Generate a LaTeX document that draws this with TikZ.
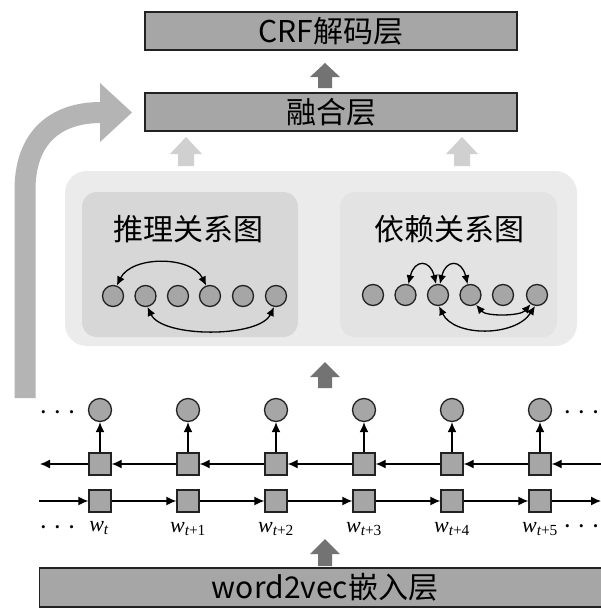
\documentclass[tikz,border=0pt]{standalone}
\usepackage{fontspec}
\newfontfamily\cjk{Noto Sans CJK SC}
\newfontfamily\tms{Liberation Serif}
\usetikzlibrary{arrows.meta}
\definecolor{boxfill}{HTML}{A6A6A6}
\definecolor{edgecol}{HTML}{222222}
\definecolor{darkarr}{HTML}{737373}
\definecolor{lightarr}{HTML}{D0D0D0}
\definecolor{bigarr}{HTML}{B4B4B4}
\definecolor{outerpanel}{HTML}{EBEBEB}
\definecolor{leftpanel}{HTML}{D7D7D7}
\definecolor{rightpanel}{HTML}{E3E3E3}
% colour, x, tip y, neck y, base y, head half width, shaft half width
\newcommand\blockarrow[7]{\fill[#1] (#2-#7,#5) -- (#2-#7,#4) -- (#2-#6,#4) -- (#2,#3) -- (#2+#6,#4) -- (#2+#7,#4) -- (#2+#7,#5) -- cycle;}
\newcommand\threedots{•\hspace{9.5pt}•\hspace{9.5pt}•}
\tikzset{
  layer/.style={draw=edgecol, line width=1.4pt, fill=boxfill, minimum width=372pt, minimum height=38pt, inner sep=0pt},
  bigtext/.style={font=\cjk\fontsize{30}{30}\selectfont, inner sep=0pt},
  gnode/.style={circle, draw=edgecol, line width=1.3pt, fill=boxfill, minimum size=21pt, inner sep=0pt},
  onode/.style={circle, draw=edgecol, line width=1.3pt, fill=boxfill, minimum size=23pt, inner sep=0pt},
  cell/.style={draw=edgecol, line width=1.3pt, fill=boxfill, minimum size=22pt, inner sep=0pt},
  conn/.style={line width=1.3pt, draw=black, -{Latex[length=10pt,width=9pt]}},
  garc/.style={line width=1.3pt, draw=black, {Latex[length=9pt,width=8pt]}-{Latex[length=9pt,width=8pt]}},
  wlab/.style={font=\tms\fontsize{22}{22}\selectfont\itshape, inner sep=0pt},
  dotsn/.style={font=\tms\fontsize{13}{13}\selectfont, inner sep=0pt, anchor=base}
}
\begin{document}
\begin{tikzpicture}[x=1pt,y=-1pt]
\useasboundingbox (0,0) rectangle (601,608);
\clip (0,0) rectangle (601,608);
\fill[white] (0,0) rectangle (601,608);

% layer boxes
\node[layer] (crf) at (331,31) {};
\node[bigtext] (crftxt) at (331,31) {CRF解码层};
\node[layer] (fuse) at (331,112) {};
\node[bigtext] (fusetxt) at (331,112) {融合层};
\node[layer, minimum width=572pt, minimum height=39pt, anchor=west] (emb) at (39,587.5) {};
\node[bigtext] (embtxt) at (325,587.5) {word2vec嵌入层};

% block arrows
\blockarrow{darkarr}{325}{63}{77}{88}{15}{7}
\blockarrow{lightarr}{186}{137}{154}{166}{16}{8}
\blockarrow{lightarr}{462}{137}{154}{166}{16}{8}
\blockarrow{darkarr}{325}{362}{377}{388}{15}{7}
\blockarrow{darkarr}{325}{539}{554}{566}{15}{7}

% big skip arrow
\coordinate (skipstart) at (25,398);
\coordinate (skipend) at (101,112.5);
\draw[bigarr, line width=21pt] (skipstart) -- (25,190) .. controls (25,138) and (55,112.5) .. (skipend);
\fill[bigarr] (100,83) -- (132,112.5) -- (100,142) -- cycle;

% panels
\fill[outerpanel, rounded corners=22pt] (65,171) rectangle (577,346);
\fill[leftpanel, rounded corners=15pt] (82,192) rectangle (298,337);
\fill[rightpanel, rounded corners=15pt] (340,192) rectangle (557,337);
\node[bigtext] (ltitle) at (188,229) {推理关系图};
\node[bigtext] (rtitle) at (449,229) {依赖关系图};

% reasoning graph
\foreach \i/\x in {1/113,2/145.5,3/178,4/210,5/243,6/276}
  \node[gnode] (p\i) at (\x,296) {};
\draw[garc] (p1.70) .. controls +(15,-30) and +(-15,-30) .. (p4.110);
\draw[garc] (p2.-80) .. controls +(15,31) and +(-15,31) .. (p6.-100);

% dependency graph
\foreach \i/\x in {1/373,2/405.5,3/438,4/470.5,5/503,6/537}
  \node[gnode] (q\i) at (\x,295) {};
\draw[garc] (q2.75) .. controls +(6,-25) and +(-6,-25) .. (q3.100);
\draw[garc] (q3.80) .. controls +(6,-25) and +(-6,-25) .. (q4.105);
\draw[garc] (q3.-85) .. controls +(15,31) and +(-20,31) .. (q6.-100);
\draw[garc] (q4.-60) .. controls +(10,12) and +(-10,12) .. (q6.-125);

% BiLSTM
\foreach \i in {1,...,6} {
  \pgfmathsetmacro\xx{12+88*\i}
  \node[onode] (o\i) at (\xx,410) {};
  \node[cell] (b\i) at (\xx,464) {};
  \node[cell] (f\i) at (\xx,501) {};
  \draw[conn] (b\i) -- (o\i);
}
\foreach \i/\j in {1/2,2/3,3/4,4/5,5/6} {
  \draw[conn] (b\j) -- (b\i);
  \draw[conn] (f\i) -- (f\j);
}
\coordinate (bin) at (602,464);
\coordinate (bout) at (40,464);
\coordinate (fin) at (39,501);
\coordinate (fout) at (601,501);
\draw[conn] (bin) -- (b6);
\draw[conn] (b1) -- (bout);
\draw[conn] (fin) -- (f1);
\draw[conn] (f6) -- (fout);

% labels
\node[wlab] (l1) at (99,528) {w\textsubscript{t}};
\node[wlab] (l2) at (188,529) {w\textsubscript{t\upshape +1}};
\node[wlab] (l3) at (276,529) {w\textsubscript{t\upshape +2}};
\node[wlab] (l4) at (364,529) {w\textsubscript{t\upshape +3}};
\node[wlab] (l5) at (452,529) {w\textsubscript{t\upshape +4}};
\node[wlab] (l6) at (540,529) {w\textsubscript{t\upshape +5}};

\node[dotsn] (d1) at (57.5,416.5) {\threedots};
\node[dotsn] (d2) at (57.5,531) {\threedots};
\node[dotsn] (d3) at (581.5,416.5) {\threedots};
\node[dotsn] (d4) at (581.5,530) {\threedots};
\end{tikzpicture}
\end{document}
